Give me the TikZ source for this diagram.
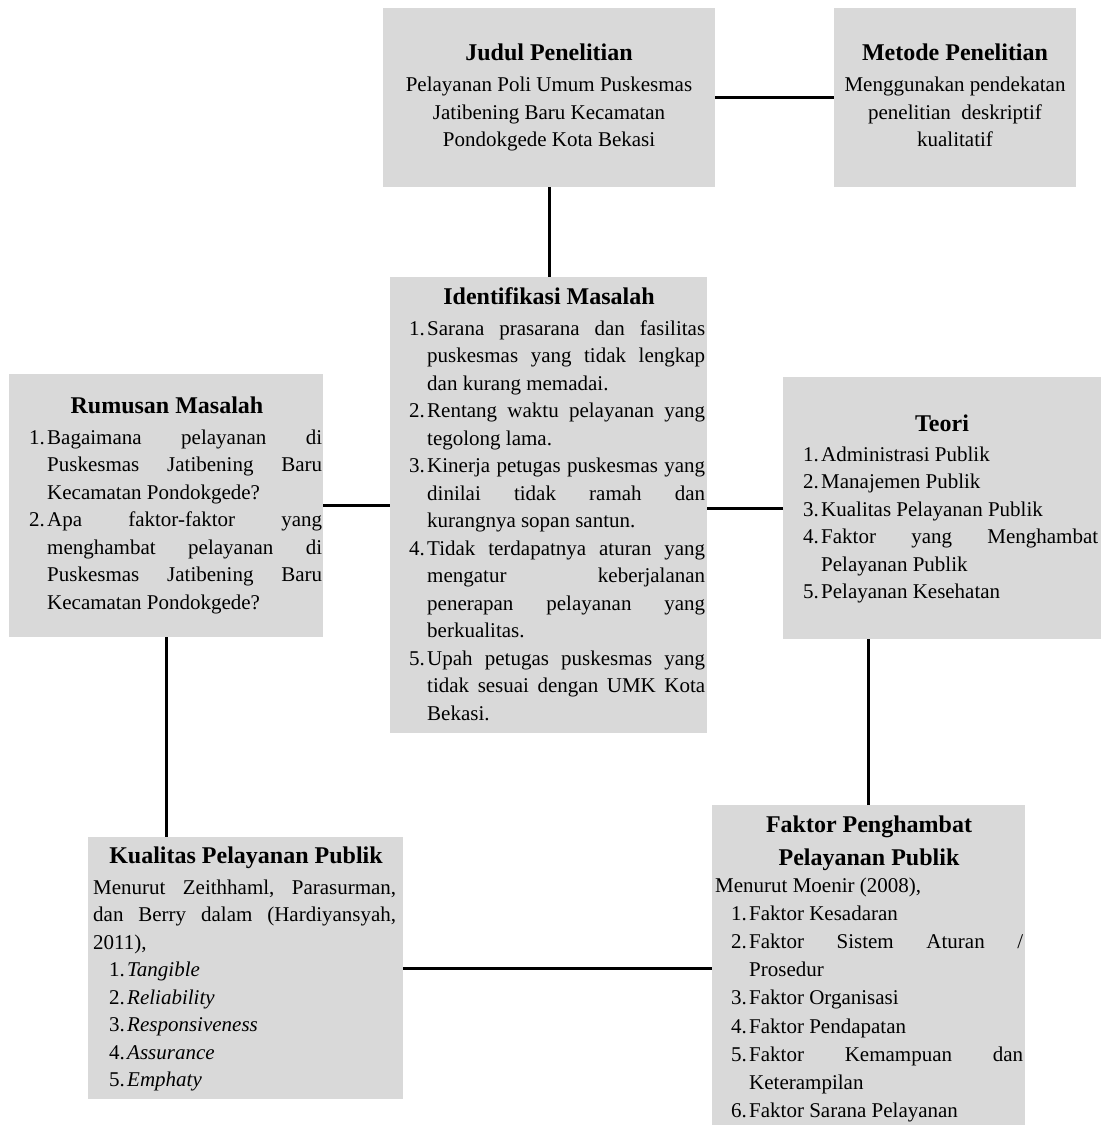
\documentclass[tikz,border=0pt]{standalone}
\usepackage{fontspec}
\setmainfont{Liberation Serif}
\definecolor{boxgray}{RGB}{217,217,217}
\newlength\itmskip
\setlength\itmskip{0pt}
\newcommand\itm[2]{\par\leftskip=\itmskip\hangindent=18pt\hangafter=1\noindent\makebox[18pt][l]{#1}#2}
\newcommand\bodyfont{\fontsize{21}{27.5}\selectfont}
\newcommand\titlefont{\fontsize{24}{33}\selectfont\bfseries}
\newcommand\bodytext[2]{\parbox[t]{#1}{\bodyfont\tolerance=10000\hbadness=10000\hyphenpenalty=10000\exhyphenpenalty=10000\frenchspacing #2}}
\begin{document}
\begin{tikzpicture}[x=1pt,y=-1pt,
  box/.style={fill=boxgray, inner sep=0pt, anchor=north west},
  ttl/.style={inner sep=0pt, anchor=base, font=\titlefont},
  txt/.style={inner sep=0pt, anchor=base west},
  ctxt/.style={inner sep=0pt, anchor=base},
  link/.style={line width=3pt, black}]
\useasboundingbox (0,0) rectangle (1109,1126);

% boxes
\node[box, minimum width=332pt, minimum height=179pt] (judul) at (383,8) {};
\node[box, minimum width=242pt, minimum height=179pt] (metode) at (834,8) {};
\node[box, minimum width=317pt, minimum height=456pt] (ident) at (390,277) {};
\node[box, minimum width=314pt, minimum height=263pt] (rumusan) at (9,374) {};
\node[box, minimum width=318pt, minimum height=262pt] (teori) at (783,377) {};
\node[box, minimum width=315pt, minimum height=262pt] (kualitas) at (88,837) {};
\node[box, minimum width=313pt, minimum height=320pt] (faktor) at (712,805) {};

% connectors
\draw[link] (judul) -- (metode);
\draw[link] (judul.south) -- (judul.south |- ident.north);
\draw[link] (rumusan.east) -- (rumusan.east -| ident.west);
\draw[link] (teori.west) -- (teori.west -| ident.east);
\draw[link] (rumusan.south) -- (rumusan.south |- kualitas.north);
\draw[link] (faktor.north) -- (faktor.north |- teori.south);
\draw[link] (kualitas.east) -- (kualitas.east -| faktor.west);

% Judul
\node[ttl] (judulT) at (549,61) {Judul Penelitian};
\node[ctxt] (judulB) at (549,92) {\bodytext{320pt}{\centering Pelayanan Poli Umum Puskesmas\\ Jatibening Baru Kecamatan\\ Pondokgede Kota Bekasi}};

% Metode
\node[ttl] (metodeT) at (955,61) {Metode Penelitian};
\node[ctxt] (metodeB) at (955,92) {\bodytext{240pt}{\centering Menggunakan pendekatan\\ penelitian\hspace{0.5em}deskriptif\\ kualitatif}};

% Identifikasi
\node[ttl] (identT) at (549,304) {Identifikasi Masalah};
\node[txt] (identB) at (409,335) {\bodytext{296pt}{%
\itm{1.}{Sarana prasarana dan fasilitas\linebreak puskesmas yang tidak lengkap\linebreak dan kurang memadai.}
\itm{2.}{Rentang waktu pelayanan yang\linebreak tegolong lama.}
\itm{3.}{Kinerja petugas puskesmas yang\linebreak dinilai tidak ramah dan\linebreak kurangnya sopan santun.}
\itm{4.}{Tidak terdapatnya aturan yang\linebreak mengatur keberjalanan\linebreak penerapan pelayanan yang\linebreak berkualitas.}
\itm{5.}{Upah petugas puskesmas yang\linebreak tidak sesuai dengan UMK Kota\linebreak Bekasi.}}};

% Rumusan
\node[ttl] (rumusanT) at (167,413) {Rumusan Masalah};
\node[txt] (rumusanB) at (29,444) {\bodytext{293pt}{%
\itm{1.}{Bagaimana pelayanan di\linebreak Puskesmas Jatibening Baru\linebreak Kecamatan Pondokgede?}
\itm{2.}{Apa faktor-faktor yang\linebreak menghambat pelayanan di\linebreak Puskesmas Jatibening Baru\linebreak Kecamatan Pondokgede?}}};

% Teori
\node[ttl] (teoriT) at (942,431) {Teori};
\node[txt] (teoriB) at (803,461) {\bodytext{295pt}{%
\itm{1.}{Administrasi Publik}
\itm{2.}{Manajemen Publik}
\itm{3.}{Kualitas Pelayanan Publik}
\itm{4.}{Faktor yang Menghambat\linebreak Pelayanan Publik}
\itm{5.}{Pelayanan Kesehatan}}};

% Kualitas
\node[ttl] (kualitasT) at (246,863) {Kualitas Pelayanan Publik};
\node[txt] (kualitasB) at (93,894) {\bodytext{303pt}{%
\noindent Menurut Zeithhaml, Parasurman,\linebreak dan Berry dalam (Hardiyansyah,\linebreak 2011),
\setlength\itmskip{16pt}%
\itm{1.}{\textit{Tangible}}
\itm{2.}{\textit{Reliability}}
\itm{3.}{\textit{Responsiveness}}
\itm{4.}{\textit{Assurance}}
\itm{5.}{\textit{Emphaty}}}};

% Faktor
\node[ctxt] (faktorT) at (869,832) {\parbox[t]{300pt}{\titlefont\centering Faktor Penghambat\\ Pelayanan Publik}};
\node[txt] (faktorB) at (715,892) {\bodytext{308pt}{\fontsize{21}{28.2}\selectfont
\noindent Menurut Moenir (2008),
\setlength\itmskip{16pt}%
\itm{1.}{Faktor Kesadaran}
\itm{2.}{Faktor Sistem Aturan /\linebreak Prosedur}
\itm{3.}{Faktor Organisasi}
\itm{4.}{Faktor Pendapatan}
\itm{5.}{Faktor Kemampuan dan\linebreak Keterampilan}
\itm{6.}{Faktor Sarana Pelayanan}}};
\end{tikzpicture}
\end{document}
